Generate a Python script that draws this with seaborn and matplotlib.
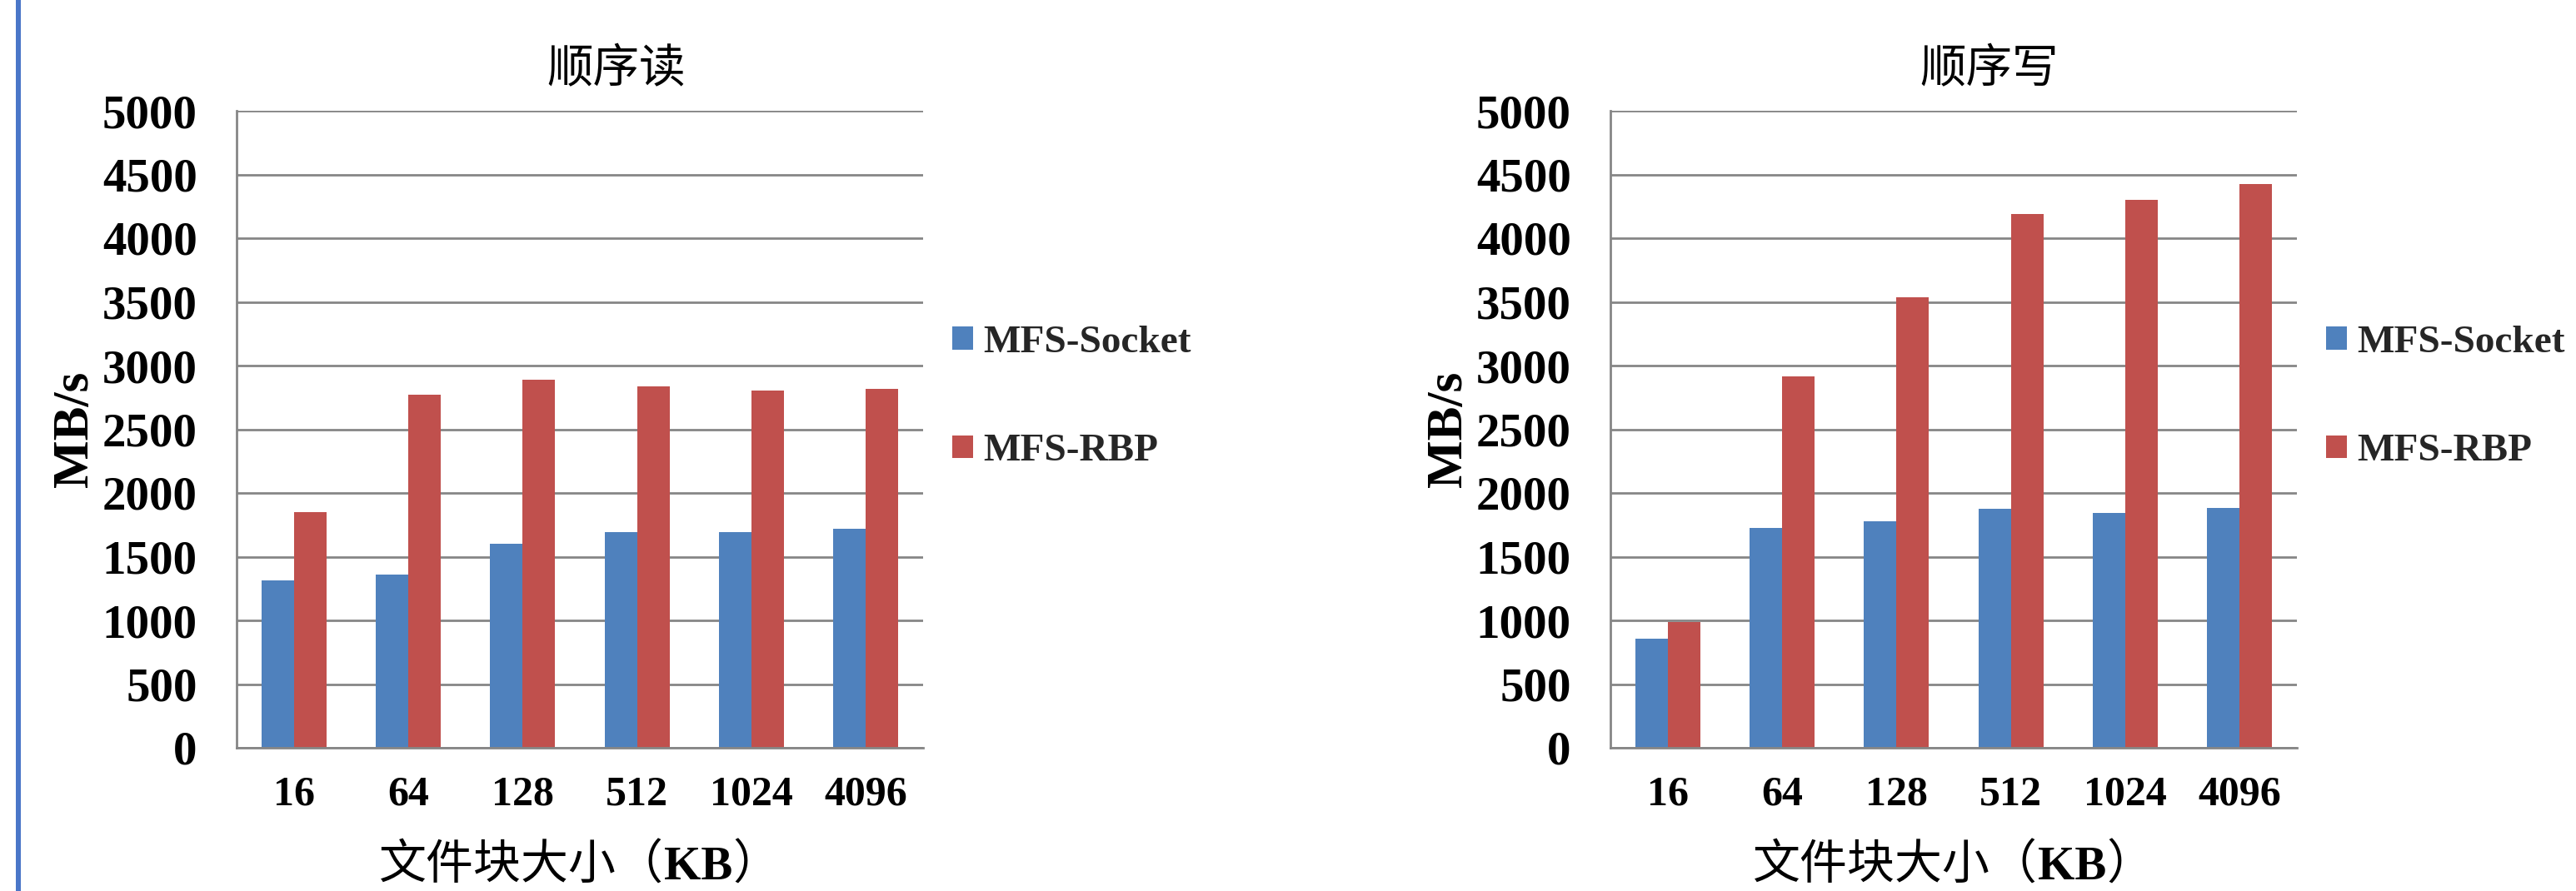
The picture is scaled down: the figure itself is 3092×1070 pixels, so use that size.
import matplotlib
matplotlib.use("Agg")
import matplotlib.pyplot as plt
from matplotlib.patches import Rectangle
import pandas as pd
import seaborn as sns

# Block sizes (KB) on the x axis and the two compared implementations
block_sizes = ["16", "64", "128", "512", "1024", "4096"]
series_names = ["MFS-Socket", "MFS-RBP"]

# Sequential read throughput (MB/s)
read_socket = [1312, 1359, 1599, 1691, 1691, 1721]
read_rbp = [1850, 2770, 2886, 2837, 2806, 2814]

# Sequential write throughput (MB/s)
write_socket = [856, 1727, 1780, 1874, 1845, 1882]
write_rbp = [986, 2913, 3538, 4188, 4303, 4423]

panel_titles = ["顺序读", "顺序写"]
y_ticks = list(range(0, 5001, 500))
y_label = "MB/s"
x_label_parts = ["文件块大小（", "KB", "）"]

BLUE = "#4F81BD"
RED = "#C0504D"
GRID = "#868686"

sns.set_theme(style="white")
plt.rcParams["font.family"] = ["Liberation Serif", "Noto Sans CJK SC"]

W, H = 3092, 1070
fig = plt.figure(figsize=(W / 100, H / 100), dpi=100)
fig.patch.set_facecolor("white")

# thin blue rule along the left edge of the page
fig.add_artist(Rectangle((19 / W, 0), 6 / W, 1, transform=fig.transFigure,
                         facecolor="#4A76C8", edgecolor="none"))


def long_frame(socket, rbp):
    return pd.DataFrame({
        "size": block_sizes * 2,
        "value": socket + rbp,
        "series": [series_names[0]] * len(block_sizes) + [series_names[1]] * len(block_sizes),
    })


panels = [
    (long_frame(read_socket, read_rbp), 284, 1143, 740),
    (long_frame(write_socket, write_rbp), 1933, 2792, 2388),
]

axes = []
for (df, left_px, legend_px, title_px), title in zip(panels, panel_titles):
    ax = fig.add_axes([left_px / W, 1 - 898 / H, 824 / W, 765 / H])
    sns.barplot(data=df, x="size", y="value", hue="series", order=block_sizes,
                hue_order=series_names, palette=[BLUE, RED], saturation=1,
                width=0.57, gap=0, ax=ax, edgecolor="none", linewidth=0)
    ax.set_ylim(0, 5000)
    ax.set_xlim(-0.5, len(block_sizes) - 0.5)
    ax.set_yticks(y_ticks)
    ax.set_yticklabels([str(t) for t in y_ticks])
    ax.yaxis.grid(True, color=GRID, linewidth=2.0)
    ax.xaxis.grid(False)
    ax.set_axisbelow(True)
    for side in ("top", "right"):
        ax.spines[side].set_visible(False)
    for side in ("left", "bottom"):
        ax.spines[side].set_color(GRID)
        ax.spines[side].set_linewidth(2.0)
    ax.tick_params(axis="y", length=0, pad=34, labelsize=41)
    ax.tick_params(axis="x", length=0, pad=24, labelsize=36)
    for lab in ax.get_xticklabels() + ax.get_yticklabels():
        lab.set_fontweight("bold")
        lab.set_color("black")
    ax.set_xlabel("")
    ax.set_ylabel(y_label, fontsize=44, fontweight="bold", color="black", va="center")
    ax.yaxis.set_label_coords(-0.236, 0.5)

    sns.move_legend(ax, "center left", bbox_to_anchor=(legend_px / W, 1 - 477 / H),
                    bbox_transform=fig.transFigure, frameon=False, title=None,
                    fontsize=34, prop={"weight": "bold", "size": 34},
                    handlelength=0.53, handleheight=0.53, handletextpad=0.25,
                    labelspacing=1.87, borderpad=0, borderaxespad=0)

    fig.text(title_px / W, 1 - 99 / H, title, fontsize=40, ha="center", va="baseline",
             family=["Noto Sans CJK SC"], color="black")
    axes.append(ax)

# x-axis caption: Chinese text in regular weight, the unit in bold serif
renderer = fig.canvas.get_renderer()
for ax in axes:
    styles = [
        dict(family=["Noto Sans CJK SC"], fontweight="normal"),
        dict(family=["Liberation Serif"], fontweight="bold"),
        dict(family=["Noto Sans CJK SC"], fontweight="normal"),
    ]
    pieces = [fig.text(0, 1 - 1056 / H, s, fontsize=41, ha="left", va="baseline",
                       color="black", **st) for s, st in zip(x_label_parts, styles)]
    widths = [p.get_window_extent(renderer).width for p in pieces]
    box = ax.get_window_extent(renderer)
    x = (box.x0 + box.x1) / 2 - sum(widths) / 2
    for p, w in zip(pieces, widths):
        p.set_x(x / fig.bbox.width)
        x += w

fig.savefig("out.png", dpi=100, facecolor="white")
